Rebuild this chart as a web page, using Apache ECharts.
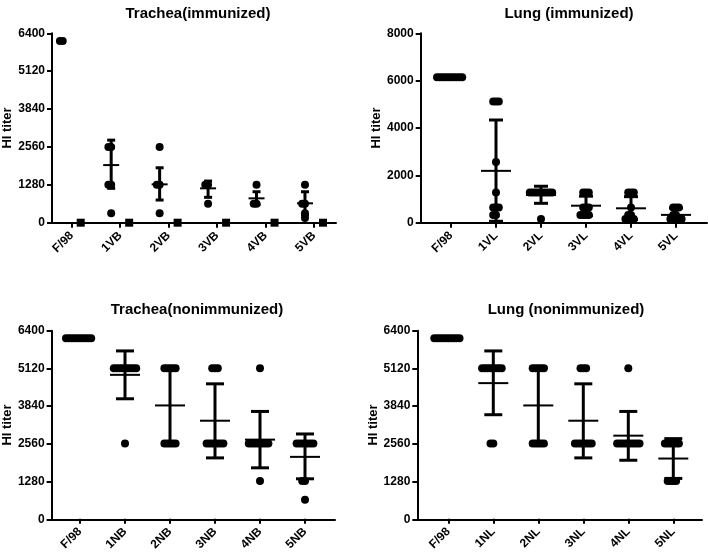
<!DOCTYPE html>
<html><head><meta charset="utf-8">
<script src="https://cdn.jsdelivr.net/npm/echarts@6/dist/echarts.min.js"></script>
<style>html,body{margin:0;padding:0;background:#fff}#c{width:708px;height:553px}</style>
</head><body><div id="c"></div>
<script>
// ---------- DATA ----------
const titles = ['Trachea(immunized)', 'Lung (immunized)', 'Trachea(nonimmunized)', 'Lung (nonimmunized)'];
const yTicksTiter = [0, 1280, 2560, 3840, 5120, 6400];
const yTicksLung = [0, 2000, 4000, 6000, 8000];

// Trachea (immunized)
const catTI = ['F/98', '1VB', '2VB', '3VB', '4VB', '5VB'];
const dotsTI = [[6144, 6144], [2560, 2560, 1280, 1280, 320], [2560, 1280, 1280, 320], [1280, 1280, 640], [1280, 640, 640], [1280, 640, 640, 320, 160]];
const ctrlTI = [0, 0, 0, 0, 0, 0];
const meanTI = [null, 1947, 1296, 1161, 823, 655];
const loTI = [null, 1161, 766, 857, 610, 260];
const hiTI = [null, 2790, 1856, 1407, 1046, 1046];

// Lung (immunized)
const catLI = ['F/98', '1VL', '2VL', '3VL', '4VL', '5VL'];
const dotsLI = [[6144, 6144, 6144, 6144, 6144, 6144, 6144, 6144, 6144, 6144],
  [5120, 5120, 5120, 2560, 1280, 640, 640, 640, 320, 320],
  [1280, 1280, 1280, 1280, 1280, 1280, 1280, 1280, 1280, 160],
  [1280, 1280, 1280, 640, 640, 640, 320, 320, 320, 320],
  [1280, 1280, 1280, 640, 320, 320, 160, 160, 160, 160],
  [640, 640, 640, 320, 320, 160, 160, 160, 160, 160]];
const meanLI = [null, 2190, 1170, 718, 608, 330];
const loLI = [null, 60, 819, 300, 130, 40];
const hiLI = [null, 4338, 1540, 1120, 1100, 620];

// Trachea (nonimmunized)
const catTN = ['F/98', '1NB', '2NB', '3NB', '4NB', '5NB'];
const dotsTN = [[6144, 6144, 6144, 6144, 6144, 6144, 6144, 6144, 6144, 6144],
  [5120, 5120, 5120, 5120, 5120, 5120, 5120, 5120, 5120, 2560],
  [5120, 5120, 5120, 5120, 5120, 2560, 2560, 2560, 2560, 2560],
  [5120, 5120, 5120, 2560, 2560, 2560, 2560, 2560, 2560, 2560],
  [5120, 2560, 2560, 2560, 2560, 2560, 2560, 2560, 2560, 1280],
  [2560, 2560, 2560, 2560, 2560, 2560, 2560, 1280, 1280, 640]];
const meanTN = [null, 4897, 3855, 3335, 2691, 2104];
const loTN = [null, 4082, 2520, 2069, 1731, 1357];
const hiTN = [null, 5711, 5160, 4591, 3651, 2884];

// Lung (nonimmunized)
const catLN = ['F/98', '1NL', '2NL', '3NL', '4NL', '5NL'];
const dotsLN = [[6144, 6144, 6144, 6144, 6144, 6144, 6144, 6144, 6144, 6144],
  [5120, 5120, 5120, 5120, 5120, 5120, 5120, 5120, 2560, 2560],
  [5120, 5120, 5120, 5120, 5120, 2560, 2560, 2560, 2560, 2560],
  [5120, 5120, 5120, 2560, 2560, 2560, 2560, 2560, 2560, 2560],
  [5120, 2560, 2560, 2560, 2560, 2560, 2560, 2560, 2560, 2560],
  [2560, 2560, 2560, 2560, 2560, 2560, 1280, 1280, 1280, 1280]];
const meanLN = [null, 4615, 3855, 3335, 2826, 2047];
const loLN = [null, 3539, 2520, 2069, 1989, 1370];
const hiLN = [null, 5711, 5160, 4591, 3651, 2725];

// ---------- LAYOUT ----------
const FONT = '"Liberation Sans", Arial, Helvetica, sans-serif';
const panels = [
  {title: titles[0], cats: catTI, dots: dotsTI, mean: meanTI, lo: loTI, hi: hiTI, ctrl: ctrlTI, ticks: yTicksTiter,
   axisX: 52, axisRight: 336, top: 33.3, bottom: 222.7, bandL: 47.5, bandR: 338.2, titleX: 193, titleY: 1,
   dotOff: -9, ctrlOff: 9, capW: 4, meanW: 8},
  {title: titles[1], cats: catLI, dots: dotsLI, mean: meanLI, lo: loLI, hi: hiLI, ticks: yTicksLung,
   axisX: 420.7, axisRight: 707, top: 33.3, bottom: 222.7, bandL: 428.5, bandR: 698.5, titleX: 564, titleY: 1,
   dotOff: 0, capW: 7, meanW: 15},
  {title: titles[2], cats: catTN, dots: dotsTN, mean: meanTN, lo: loTN, hi: hiTN, ticks: yTicksTiter,
   axisX: 49.3, axisRight: 335, top: 330.7, bottom: 519.3, bandL: 57.5, bandR: 327.5, titleX: 192, titleY: 297,
   dotOff: 0, capW: 9, meanW: 15},
  {title: titles[3], cats: catLN, dots: dotsLN, mean: meanLN, lo: loLN, hi: hiLN, ticks: yTicksTiter,
   axisX: 417.3, axisRight: 702, top: 330.7, bottom: 519.3, bandL: 425.8, bandR: 695.8, titleX: 561, titleY: 297,
   dotOff: 0, capW: 9, meanW: 15}
];

const option = {animation: false, backgroundColor: '#fff', title: [], grid: [], xAxis: [], yAxis: [], series: []};
const txt = {fontFamily: FONT, fontWeight: 'bold', color: '#000'};

panels.forEach((p, k) => {
  const ymin = p.ticks[0], ymax = p.ticks[p.ticks.length - 1], yint = p.ticks[1] - p.ticks[0];
  const H = p.bottom - p.top;
  option.title.push({text: p.title, left: p.titleX, top: p.titleY, textAlign: 'center',
    textStyle: Object.assign({fontSize: 15}, txt)});
  // frame grid (axis lines)
  option.grid.push({left: p.axisX, top: p.top, width: p.axisRight - p.axisX, height: H});
  // data grid (category bands)
  option.grid.push({left: p.bandL, top: p.top, width: p.bandR - p.bandL, height: H});
  const gF = 2 * k, gD = 2 * k + 1;
  option.xAxis.push({gridIndex: gF, type: 'value', min: 0, max: 1,
    axisLine: {show: true, lineStyle: {color: '#000', width: 2}}, axisTick: {show: false},
    axisLabel: {show: false}, splitLine: {show: false}});
  option.yAxis.push({gridIndex: gF, type: 'value', min: ymin, max: ymax, interval: yint,
    name: 'HI titer', nameLocation: 'middle', nameRotate: 90, nameGap: 33,
    nameTextStyle: Object.assign({fontSize: 13}, txt),
    axisLine: {show: true, lineStyle: {color: '#000', width: 2}},
    axisTick: {show: true, length: 5, lineStyle: {color: '#000', width: 2}},
    axisLabel: Object.assign({fontSize: 12, margin: 7, formatter: v => String(v)}, txt), splitLine: {show: false}});
  option.xAxis.push({gridIndex: gD, type: 'category', data: p.cats,
    jitter: 40, jitterOverlap: false, jitterMargin: -5.2,
    axisLine: {show: false},
    axisTick: {show: true, alignWithLabel: true, length: 5, lineStyle: {color: '#000', width: 2}},
    axisLabel: Object.assign({fontSize: 12, rotate: 45, margin: 11, interval: 0}, txt),
    splitLine: {show: false}});
  option.yAxis.push({gridIndex: gD, type: 'value', min: ymin, max: ymax, interval: yint, show: false});
  const xi = option.xAxis.length - 1, yi = option.yAxis.length - 1;
  const pts = [];
  p.dots.forEach((arr, ci) => arr.forEach(v => pts.push([ci, v])));
  option.series.push({type: 'scatter', xAxisIndex: xi, yAxisIndex: yi, data: pts,
    symbol: 'circle', symbolSize: 8, symbolOffset: [p.dotOff, 0],
    itemStyle: {color: '#000', opacity: 1}, z: 2});
  if (p.ctrl) {
    option.series.push({type: 'scatter', xAxisIndex: xi, yAxisIndex: yi,
      data: p.ctrl.map((v, ci) => [ci, v]), symbol: 'rect', symbolSize: 8, symbolOffset: [p.ctrlOff, 0],
      itemStyle: {color: '#000', opacity: 1}, z: 2});
  }
  const eb = [];
  p.mean.forEach((m, ci) => { if (m !== null) eb.push([ci, m, p.lo[ci], p.hi[ci]]); });
  option.series.push({type: 'custom', xAxisIndex: xi, yAxisIndex: yi, data: eb, z: 3, clip: false,
    encode: {x: 0, y: [1, 2, 3]},
    renderItem: (params, api) => {
      const c = api.coord([api.value(0), api.value(1)]);
      const lo = api.coord([api.value(0), api.value(2)]);
      const hi = api.coord([api.value(0), api.value(3)]);
      const x = c[0] + p.dotOff;
      const st = w => ({stroke: '#000', lineWidth: w});
      return {type: 'group', children: [
        {type: 'line', shape: {x1: x, y1: hi[1], x2: x, y2: lo[1]}, style: st(3)},
        {type: 'line', shape: {x1: x - p.capW, y1: hi[1], x2: x + p.capW, y2: hi[1]}, style: st(3)},
        {type: 'line', shape: {x1: x - p.capW, y1: lo[1], x2: x + p.capW, y2: lo[1]}, style: st(3)},
        {type: 'line', shape: {x1: x - p.meanW, y1: c[1], x2: x + p.meanW, y2: c[1]}, style: st(2)}
      ]};
    }});
});

const chart = echarts.init(document.getElementById('c'));
chart.setOption(option);
</script>
</body></html>
